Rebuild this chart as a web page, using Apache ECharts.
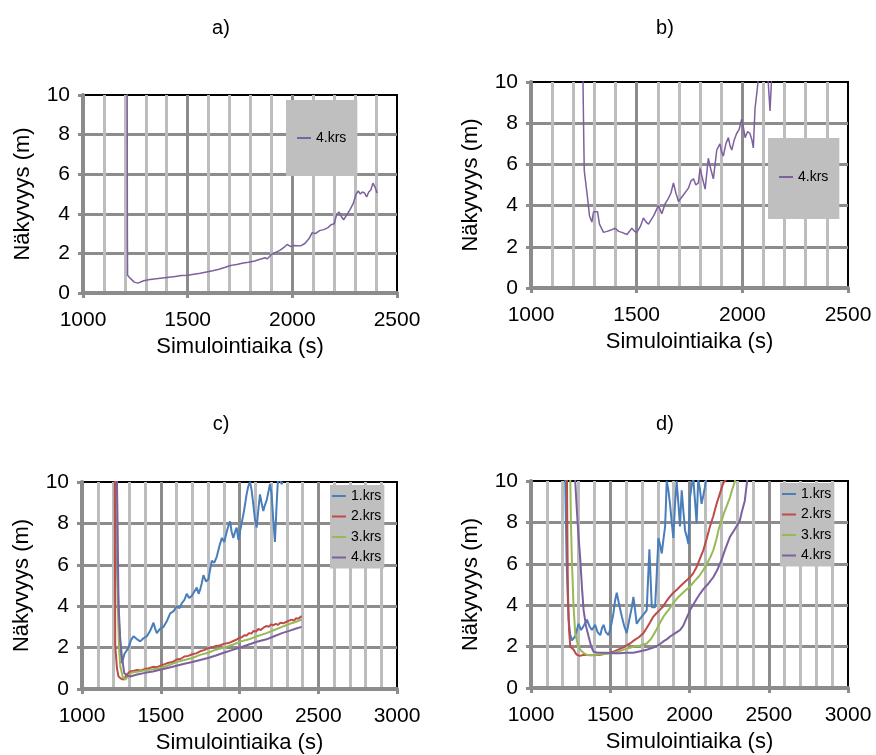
<!DOCTYPE html>
<html>
<head>
<meta charset="utf-8">
<script src="https://cdn.jsdelivr.net/npm/echarts@6/dist/echarts.min.js"></script>
<style>
  html, body { margin: 0; padding: 0; background: #fff; }
  #chart { width: 876px; height: 755px; }
</style>
</head>
<body>
<div id="chart"></div>
<script>
// values: [simulointiaika (s), näkyvyys (m)]
var panelTitles = ['a)', 'b)', 'c)', 'd)'];
var seriesNames = ['1.krs', '2.krs', '3.krs', '4.krs'];
var seriesColors = ['#4a7ebb', '#be4b48', '#98b954', '#7d60a0'];

var a4 = [[1210,12],[1211,10],[1212,3],[1213,0.9],[1225,0.75],[1245,0.55],[1262,0.5],[1290,0.62],[1320,0.68],
  [1350,0.72],[1380,0.76],[1410,0.8],[1440,0.83],[1470,0.88],[1500,0.9],[1530,0.95],[1560,1.0],[1590,1.06],
  [1620,1.12],[1650,1.2],[1680,1.3],[1700,1.38],[1720,1.42],[1740,1.45],[1760,1.5],[1790,1.55],[1820,1.62],
  [1850,1.72],[1870,1.78],[1880,1.72],[1900,1.95],[1920,2.05],[1940,2.15],[1960,2.3],[1975,2.45],[1990,2.35],
  [2010,2.4],[2040,2.38],[2060,2.5],[2080,2.75],[2095,3.05],[2110,3.0],[2130,3.15],[2150,3.2],[2170,3.3],
  [2185,3.45],[2200,3.5],[2210,3.9],[2222,4.1],[2235,3.85],[2245,3.7],[2260,3.95],[2275,4.2],[2290,4.5],
  [2305,5.0],[2315,5.15],[2325,5.0],[2335,5.1],[2345,5.05],[2355,4.85],[2365,5.1],[2375,5.2],[2385,5.55],
  [2395,5.35],[2405,5.05]];

var b4 = [[1245,12],[1246,10],[1250,7],[1252,5.7],[1265,4.6],[1277,3.5],[1288,3.2],[1296,3.7],[1315,3.7],
  [1324,3.1],[1343,2.7],[1360,2.75],[1375,2.8],[1398,2.9],[1415,2.75],[1430,2.7],[1454,2.6],[1466,2.75],
  [1477,2.9],[1490,2.75],[1501,2.7],[1518,3.0],[1532,3.4],[1545,3.2],[1556,3.1],[1580,3.5],[1603,4.0],
  [1619,3.6],[1635,4.1],[1650,4.35],[1662,4.6],[1674,5.1],[1686,4.6],[1698,4.2],[1720,4.5],[1745,4.85],
  [1757,5.2],[1769,5.3],[1780,5.0],[1792,5.1],[1800,5.8],[1812,5.3],[1824,4.8],[1839,6.3],[1850,5.8],
  [1863,5.3],[1879,6.7],[1894,7.0],[1902,6.6],[1910,6.4],[1922,7.0],[1934,7.3],[1942,6.9],[1950,6.7],
  [1962,7.2],[1973,7.5],[1985,7.7],[1997,8.2],[2005,7.8],[2013,7.3],[2025,7.6],[2036,7.5],[2045,7.2],
  [2052,6.8],[2060,8.7],[2070,9.6],[2076,10.2],[2095,12],[2115,11],[2123,9.9],[2131,8.6],[2139,10.3],[2146,11]];

var c1 = [[1205,12],[1210,10],[1222,6],[1240,2.2],[1253,1.25],[1270,1.7],[1296,2.0],[1310,2.35],[1327,2.55],
  [1350,2.4],[1370,2.3],[1390,2.45],[1412,2.55],[1432,2.8],[1454,3.2],[1465,2.9],[1475,2.7],[1495,2.9],
  [1517,3.0],[1540,3.3],[1560,3.65],[1580,3.75],[1602,4.0],[1618,3.9],[1634,4.15],[1650,4.3],[1665,4.6],
  [1680,4.4],[1697,4.5],[1713,4.7],[1729,4.9],[1740,4.6],[1750,4.8],[1760,5.1],[1771,5.5],[1787,5.2],
  [1803,5.3],[1814,5.8],[1824,6.2],[1840,6.1],[1856,6.4],[1872,6.9],[1888,7.3],[1903,7.1],[1919,7.6],
  [1930,7.9],[1940,8.1],[1950,7.6],[1961,7.3],[1972,7.6],[1982,7.8],[1993,7.2],[2008,7.8],[2024,8.4],
  [2035,8.9],[2045,9.4],[2056,9.8],[2067,10],[2077,9.6],[2088,8.9],[2098,8.2],[2109,7.8],[2120,8.7],
  [2130,9.4],[2140,9.0],[2151,8.6],[2162,8.9],[2172,9.1],[2183,9.5],[2194,9.9],[2204,9.4],[2214,8.2],
  [2225,7.1],[2235,8.8],[2246,10.4],[2257,10.1],[2267,9.9],[2275,10]];
var c2 = [[1205,12],[1208,10],[1210,5],[1211,2.1],[1222,1.0],[1232,0.6],[1248,0.5],[1264,0.45],[1285,0.7],
  [1306,0.85],[1330,0.88],[1350,0.92],[1375,0.9],[1400,0.97],[1425,1.0],[1450,1.07],[1475,1.05],[1496,1.12],
  [1525,1.2],[1550,1.27],[1575,1.3],[1600,1.42],[1625,1.45],[1650,1.57],[1675,1.6],[1700,1.68],[1725,1.72],
  [1750,1.82],[1775,1.88],[1800,1.97],[1825,2.0],[1850,2.08],[1875,2.1],[1900,2.18],[1930,2.22],[1961,2.32],
  [1980,2.38],[2000,2.48],[2015,2.5],[2030,2.6],[2045,2.58],[2060,2.7],[2075,2.68],[2088,2.8],[2105,2.78],
  [2120,2.9],[2135,2.85],[2150,2.95],[2172,3.05],[2185,3.0],[2200,3.12],[2215,3.08],[2230,3.15],[2245,3.1],
  [2260,3.2],[2280,3.18],[2299,3.25],[2315,3.3],[2330,3.35],[2345,3.3],[2360,3.42],[2375,3.4],[2394,3.52]];
var c3 = [[1218,12],[1222,10],[1226,4.3],[1235,2.0],[1243,1.1],[1258,0.6],[1275,0.45],[1295,0.65],[1317,0.8],
  [1360,0.85],[1400,0.9],[1450,0.95],[1496,1.0],[1550,1.15],[1600,1.3],[1650,1.4],[1700,1.5],[1750,1.65],
  [1800,1.75],[1850,1.9],[1900,2.0],[1961,2.15],[2010,2.3],[2060,2.4],[2110,2.55],[2172,2.7],[2220,2.85],
  [2270,3.0],[2320,3.15],[2360,3.25],[2394,3.35]];
var c4 = [[1215,12],[1222,10],[1228,6.5],[1232,4.1],[1242,2.5],[1253,1.6],[1268,0.77],[1285,0.65],[1306,0.6],
  [1350,0.7],[1400,0.78],[1450,0.85],[1496,0.93],[1550,1.03],[1600,1.12],[1650,1.22],[1700,1.3],[1750,1.4],
  [1800,1.5],[1850,1.62],[1900,1.75],[1961,1.9],[2010,2.02],[2060,2.15],[2110,2.28],[2172,2.4],[2220,2.55],
  [2270,2.7],[2320,2.82],[2360,2.92],[2394,3.0]];

var d1 = [[1214,12],[1216,10],[1225,6],[1237,3.3],[1247,2.6],[1258,2.3],[1279,2.5],[1300,3.1],[1316,2.8],
  [1332,3.0],[1353,3.3],[1368,3.0],[1384,2.8],[1405,3.05],[1420,2.7],[1437,2.55],[1448,2.9],[1458,3.05],
  [1472,2.7],[1489,2.55],[1505,3.0],[1520,3.6],[1530,4.2],[1541,4.6],[1557,4.0],[1573,3.45],[1588,3.0],
  [1604,2.65],[1620,3.3],[1636,3.9],[1646,4.4],[1656,3.8],[1667,3.1],[1683,3.3],[1699,3.45],[1715,3.6],
  [1730,3.75],[1740,5.5],[1747,6.7],[1755,5.2],[1762,3.9],[1772,3.9],[1783,3.9],[1794,5.6],[1804,7.25],
  [1815,6.9],[1825,6.5],[1836,7.2],[1846,7.8],[1852,9.0],[1856,10],[1866,9.6],[1877,8.9],[1888,8.0],
  [1898,7.25],[1908,8.8],[1919,10],[1930,8.9],[1940,7.8],[1946,8.8],[1951,9.55],[1962,8.5],[1972,7.6],
  [1983,7.3],[1993,6.95],[2003,9.2],[2014,9.8],[2024,10.1],[2035,9.0],[2045,7.95],[2055,10.1],[2066,9.6],
  [2076,8.9],[2087,9.3],[2097,9.7],[2108,10.2],[2115,11]];
var d2 = [[1225,12],[1227,10],[1230,7],[1233,4.6],[1240,2.8],[1248,2.0],[1260,2.0],[1269,1.85],[1280,1.7],
  [1290,1.6],[1310,1.55],[1330,1.6],[1353,1.6],[1380,1.58],[1410,1.6],[1437,1.6],[1470,1.65],[1500,1.7],
  [1520,1.75],[1550,1.85],[1580,1.95],[1600,2.05],[1625,2.15],[1650,2.3],[1680,2.45],[1709,2.65],[1730,2.9],
  [1750,3.15],[1772,3.45],[1790,3.6],[1810,3.75],[1835,3.95],[1855,4.2],[1875,4.4],[1898,4.6],[1920,4.75],
  [1940,4.9],[1960,5.05],[1982,5.2],[2003,5.35],[2024,5.55],[2045,5.85],[2066,6.25],[2087,6.65],[2108,7.2],
  [2129,7.8],[2150,8.3],[2171,8.9],[2192,9.4],[2213,9.9],[2234,10.1],[2250,10.5]];
var d3 = [[1246,12],[1248,10],[1252,8],[1258,6.2],[1268,4.0],[1279,2.65],[1295,2.1],[1311,1.85],[1330,1.7],
  [1353,1.6],[1390,1.6],[1430,1.62],[1479,1.65],[1520,1.7],[1560,1.78],[1604,1.9],[1650,2.0],[1690,2.05],
  [1730,2.15],[1760,2.4],[1790,2.8],[1814,3.15],[1840,3.5],[1870,3.8],[1898,4.1],[1930,4.4],[1965,4.65],
  [2003,4.9],[2030,5.15],[2060,5.4],[2087,5.7],[2110,6.0],[2130,6.3],[2150,6.65],[2170,7.2],[2185,7.7],
  [2203,8.1],[2220,8.5],[2240,8.9],[2255,9.2],[2270,9.6],[2287,10],[2295,10.5]];
var d4 = [[1277,12],[1279,10],[1290,8.5],[1300,7.3],[1311,6.2],[1322,4.8],[1332,3.75],[1347,3.0],[1363,2.5],
  [1380,2.0],[1395,1.75],[1420,1.7],[1450,1.7],[1479,1.7],[1520,1.68],[1560,1.68],[1600,1.7],[1646,1.7],
  [1690,1.78],[1730,1.85],[1772,1.95],[1810,2.1],[1835,2.25],[1856,2.35],[1880,2.5],[1910,2.65],[1940,2.8],
  [1960,3.0],[1980,3.35],[2003,3.75],[2025,4.05],[2045,4.3],[2066,4.55],[2090,4.8],[2120,5.05],[2150,5.35],
  [2175,5.7],[2203,6.2],[2225,6.7],[2240,7.0],[2255,7.3],[2280,7.6],[2300,7.85],[2318,8.1],[2330,8.5],
  [2349,9.05],[2357,9.6],[2364,10],[2370,10.6]];

var panelData = [[null, null, null, a4], [null, null, null, b4], [c1, c2, c3, c4], [d1, d2, d3, d4]];
var xMax = [2500, 2500, 3000, 3000];

// layout (px) of the four plot areas and their legends
var grids = [
  { left: 83, top: 95, width: 314, height: 198 },
  { left: 531, top: 82, width: 317, height: 206 },
  { left: 82, top: 482, width: 315, height: 207 },
  { left: 531, top: 481, width: 317, height: 207 }
];
var titlePos = [[216, 13], [660, 13], [216, 409], [660, 409]];
var legends = [
  { left: 286, top: 100, padding: [31, 11, 31, 11], data: ['4.krs'] },
  { left: 768, top: 138, padding: [32, 11, 35, 11], data: ['4.krs'] },
  { left: 330, top: 485, padding: [4, 3, 4, 2], data: seriesNames },
  { left: 780, top: 483, padding: [4, 3, 4, 2], data: seriesNames }
];

var FONT = '"Liberation Sans", Arial, sans-serif';
var darkGrid = '#8c8c8c';
var lightGrid = '#bdbdbd';

function plainNum(v) { return String(v); }

var option = {
  animation: false,
  backgroundColor: '#fff',
  color: seriesColors,
  textStyle: { fontFamily: FONT },
  title: panelTitles.map(function (t, i) {
    return { text: t, left: titlePos[i][0], top: titlePos[i][1], textAlign: 'center',
      textStyle: { fontSize: 20, fontWeight: 'normal', color: '#000', fontFamily: FONT } };
  }),
  legend: legends.map(function (l) {
    return { left: l.left, top: l.top, padding: l.padding, data: l.data, orient: 'vertical',
      backgroundColor: '#bfbfbf', itemGap: 6.5, itemWidth: 14, itemHeight: 2, icon: 'rect',
      selectedMode: false, borderRadius: 0,
      textStyle: { fontSize: 14, color: '#000', fontFamily: FONT } };
  }),
  grid: grids.map(function (g) {
    return { left: g.left, top: g.top, width: g.width, height: g.height, show: true,
      borderColor: '#000', borderWidth: 2, backgroundColor: '#fff' };
  }),
  xAxis: grids.map(function (g, i) {
    return {
      type: 'value', gridIndex: i, min: 1000, max: xMax[i], interval: 500,
      name: 'Simulointiaika (s)', nameLocation: 'middle', nameGap: 43,
      nameTextStyle: { fontSize: 22, color: '#000', fontFamily: FONT },
      axisLine: { show: true, lineStyle: { color: darkGrid, width: 4 } },
      axisTick: { show: true, length: 5, lineStyle: { color: darkGrid, width: 3 } },
      axisLabel: { fontSize: 21, color: '#000', margin: 17, fontFamily: FONT, formatter: plainNum },
      splitLine: { show: true, showMinLine: false, showMaxLine: false, lineStyle: { color: darkGrid, width: 3 } },
      minorTick: { show: false, splitNumber: 5 },
      minorSplitLine: { show: true, lineStyle: { color: lightGrid, width: 3 } }
    };
  }),
  yAxis: grids.map(function (g, i) {
    return {
      type: 'value', gridIndex: i, min: 0, max: 10, interval: 2,
      name: 'Näkyvyys (m)', nameLocation: 'middle', nameGap: 49,
      nameTextStyle: { fontSize: 22, color: '#000', fontFamily: FONT },
      axisLine: { show: true, lineStyle: { color: darkGrid, width: 4 } },
      axisTick: { show: true, length: 5, lineStyle: { color: darkGrid, width: 3 } },
      axisLabel: { fontSize: 21, color: '#000', margin: 13, fontFamily: FONT, formatter: plainNum },
      splitLine: { show: true, showMinLine: false, showMaxLine: false, lineStyle: { color: darkGrid, width: 3 } }
    };
  }),
  series: []
};

panelData.forEach(function (sets, p) {
  sets.forEach(function (d, k) {
    if (!d) return;
    option.series.push({
      type: 'line', name: seriesNames[k], xAxisIndex: p, yAxisIndex: p, data: d,
      showSymbol: false, symbol: 'none', clip: true, z: 5 + k,
      lineStyle: { width: p < 2 ? 1.5 : 2, color: seriesColors[k] },
      itemStyle: { color: seriesColors[k] }
    });
  });
});

var chart = echarts.init(document.getElementById('chart'));
chart.setOption(option);
</script>
</body>
</html>
